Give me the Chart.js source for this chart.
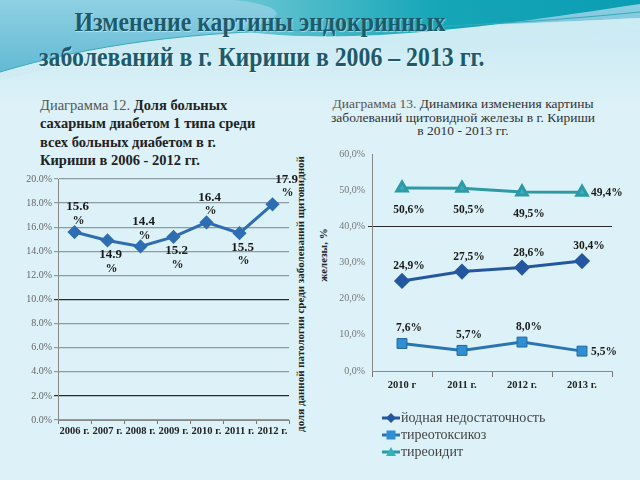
<!DOCTYPE html>
<html>
<head>
<meta charset="utf-8">
<script src="https://cdn.jsdelivr.net/npm/chart.js@4/dist/chart.umd.min.js"></script>
<style>
body { margin:0; width:640px; height:480px; overflow:hidden; position:relative;
  background:#ddf1f8; font-family:"Liberation Serif", serif; }
#bg { position:absolute; left:0; top:0; }
#title { position:absolute; left:0; top:4px; width:520px; text-align:center; color:#1d5a6b; white-space:nowrap;
  font-weight:bold; font-size:28px; line-height:35px; transform:scaleX(0.85);
  text-shadow:1px 1px 1px rgba(255,255,255,0.5); }
#sub1 { position:absolute; left:40px; top:96px; font-size:14.5px; line-height:18.3px; color:#222; font-weight:bold; white-space:nowrap; }
#sub1 span { font-weight:normal; color:#555; }
#sub2 { position:absolute; left:318px; top:97px; width:290px; text-align:center; font-size:13.5px; line-height:13.5px; color:#333; white-space:nowrap; }
#sub2 span { color:#555; }
.ytitle { position:absolute; white-space:nowrap; font-weight:bold; font-size:11px; color:#222;
  transform:translate(-50%,-50%) rotate(-90deg); }
#c1 { position:absolute; left:0; top:160px; }
#c2 { position:absolute; left:330px; top:140px; }
</style>
</head>
<body>
<svg id="bg" width="640" height="110">
  <defs>
    <linearGradient id="gb" x1="0" y1="0" x2="0" y2="1">
      <stop offset="0" stop-color="#8fd0e3"/><stop offset="1" stop-color="#62bad4"/>
    </linearGradient>
    <linearGradient id="gt" x1="0" y1="0" x2="1" y2="0">
      <stop offset="0" stop-color="#6cc6d4"/><stop offset="0.5" stop-color="#15a6b7"/><stop offset="1" stop-color="#0b9db3"/>
    </linearGradient>
    <linearGradient id="gl" x1="0" y1="0" x2="0" y2="1">
      <stop offset="0" stop-color="#c4e8f2"/><stop offset="1" stop-color="#ddf1f8"/>
    </linearGradient>
  </defs>
  <rect width="640" height="110" fill="url(#gl)"/>
  <path d="M0,0 H640 V18 C520,24 420,28 320,30 C190,31 90,45 0,72 Z" fill="url(#gb)"/>
  <path d="M0,72 C90,45 190,31 320,30 C420,28 520,24 640,18 V30 C520,36 420,40 330,44 C200,48 90,58 0,80 Z" fill="#cdebf3" opacity="0.8"/>
  <path d="M235,0 H640 V4 C560,16 470,30 380,35 C320,38 270,36 235,30 C280,22 300,8 235,0 Z" fill="url(#gt)"/>
  <path d="M0,72 C90,45 190,31 320,30 C420,28 520,24 640,12" fill="none" stroke="#3aa9b8" stroke-width="1"/>
</svg>
<div id="title">Изменение картины эндокринных<br>заболеваний в г. Кириши в 2006 – 2013 гг.</div>
<div id="sub1"><span>Диаграмма 12.</span> Доля больных<br>сахарным диабетом 1 типа среди<br>всех больных диабетом в г.<br>Кириши в 2006 - 2012 гг.</div>
<div id="sub2"><span>Диаграмма 13.</span> Динамика изменения картины<br>заболеваний щитовидной железы в г. Кириши<br>в 2010 - 2013 гг.</div>
<div class="ytitle" style="left:300px; top:294px;">доля данной патологии среди заболеваний щитовидной</div>
<div class="ytitle" style="left:323px; top:255px;">железы, %</div>
<canvas id="c1" width="310" height="290"></canvas>
<canvas id="c2" width="310" height="340"></canvas>
<script>
// Диаграмма 12
const years1 = ['2006 г.', '2007 г.', '2008 г.', '2009 г.', '2010 г.', '2011 г.', '2012 г.'];
const diabet1 = [15.6, 14.9, 14.4, 15.2, 16.4, 15.5, 17.9];
const side1 = ['up', 'down', 'up', 'down', 'up', 'down', 'up'];

// Диаграмма 13
const years2 = ['2010 г', '2011 г.', '2012 г.', '2013 г.'];
const series2 = ['йодная недостаточность', 'тиреотоксикоз', 'тиреоидит'];
const jod = [24.9, 27.5, 28.6, 30.4];
const tireotox = [7.6, 5.7, 8.0, 5.5];
const tireoid = [50.6, 50.5, 49.5, 49.4];
const side2 = [
  ['up', 'up', 'up', 'up'],
  ['up', 'up', 'up', 'right'],
  ['down', 'down', 'down', 'right']
];

const serif = '"Liberation Serif", serif';

// подписи значений
const valueLabels = {
  id: 'valueLabels',
  afterDatasetsDraw(chart, args, opts) {
    const ctx = chart.ctx;
    ctx.save();
    ctx.fillStyle = '#1a1a1a';
    ctx.textAlign = 'center';
    ctx.textBaseline = 'middle';
    chart.data.datasets.forEach((ds, i) => {
      chart.getDatasetMeta(i).data.forEach((pt, j) => {
        const s = ds.sides[j];
        if (opts.split) {
          const t = ds.data[j].toFixed(1);
          const dx = j == ds.data.length - 1 ? 14 : 3;
          const y1 = s == 'up' ? pt.y - 25 : pt.y + 14;
          ctx.font = 'bold 13px ' + serif;
          ctx.fillText(t, pt.x + dx, y1);
          ctx.font = 'bold 12px ' + serif;
          ctx.fillText('%', pt.x + dx + 1, y1 + 14);
        } else {
          const t = ds.data[j].toFixed(1).replace('.', ',') + '%';
          ctx.font = 'bold 11.5px ' + serif;
          if (s == 'right') {
            ctx.textAlign = 'left';
            ctx.fillText(t, pt.x + 9, pt.y + 1);
            ctx.textAlign = 'center';
          } else if (s == 'up') {
            ctx.fillText(t, pt.x + 7, pt.y - 15);
          } else {
            ctx.fillText(t, pt.x + 7, pt.y + 22);
          }
        }
      });
    });
    ctx.restore();
  }
};

function marker(ctx, style, x, y, color) {
  ctx.fillStyle = color;
  ctx.beginPath();
  if (style == 'rectRot') {
    ctx.moveTo(x, y - 5); ctx.lineTo(x + 5, y); ctx.lineTo(x, y + 5); ctx.lineTo(x - 5, y);
  } else if (style == 'rect') {
    ctx.rect(x - 4.5, y - 4.5, 9, 9);
  } else {
    ctx.moveTo(x, y - 5); ctx.lineTo(x + 5, y + 4); ctx.lineTo(x - 5, y + 4);
  }
  ctx.closePath();
  ctx.fill();
}

// легенда столбиком
const columnLegend = {
  id: 'columnLegend',
  afterDraw(chart) {
    const ctx = chart.ctx;
    const a = chart.chartArea;
    ctx.save();
    chart.data.datasets.forEach((ds, i) => {
      const y = a.bottom + 47 + i * 17;
      ctx.strokeStyle = ds.borderColor;
      ctx.lineWidth = 3;
      ctx.beginPath();
      ctx.moveTo(a.left + 10, y);
      ctx.lineTo(a.left + 28, y);
      ctx.stroke();
      marker(ctx, ds.pointStyle, a.left + 19, y, ds.pointBackgroundColor);
      ctx.fillStyle = '#444';
      ctx.font = '14px ' + serif;
      ctx.textBaseline = 'middle';
      ctx.fillText(ds.label, a.left + 29, y);
    });
    ctx.restore();
  }
};

new Chart(document.getElementById('c1'), {
  type: 'line',
  data: {
    labels: years1,
    datasets: [{
      data: diabet1,
      sides: side1,
      borderColor: '#2f6db3',
      backgroundColor: '#2f6db3',
      borderWidth: 3,
      pointStyle: 'rectRot',
      pointRadius: 5,
      pointBackgroundColor: '#2f6db3',
      pointBorderColor: '#2f6db3',
      tension: 0
    }]
  },
  options: {
    responsive: false,
    animation: false,
    layout: { padding: { top: 19, right: 21, left: 0, bottom: 0 } },
    plugins: { legend: { display: false }, tooltip: { enabled: false }, valueLabels: { split: true } },
    scales: {
      x: {
        offset: true,
        grid: { offset: true, drawOnChartArea: false, tickLength: 4, color: '#777' },
        border: { color: '#888' },
        ticks: { color: '#222', padding: 1, font: { family: serif, size: 10.5, weight: 'bold' }, maxRotation: 0, autoSkip: false },
        afterFit(s) { s.height = 30; }
      },
      y: {
        min: 0, max: 20,
        grid: {
          tickLength: 4,
          color: c => (c.tick && (c.tick.value == 10 || c.tick.value == 2)) ? '#2a2a2a' : '#8c9ca2',
          lineWidth: 1.2
        },
        border: { color: '#888' },
        ticks: { stepSize: 2, color: '#666', padding: 2, font: { family: serif, size: 10 },
          callback: v => v.toFixed(1) + '%' },
        afterFit(s) { s.width = 58; }
      }
    }
  },
  plugins: [valueLabels]
});

new Chart(document.getElementById('c2'), {
  type: 'line',
  data: {
    labels: years2,
    datasets: [
      { label: series2[0], data: jod, sides: side2[0], borderColor: '#24579f', pointStyle: 'rectRot',
        pointRadius: 6, pointBackgroundColor: '#24579f', pointBorderColor: '#24579f' },
      { label: series2[1], data: tireotox, sides: side2[1], borderColor: '#2b74b4', pointStyle: 'rect',
        pointRadius: 7, pointBackgroundColor: '#2f8fd2', pointBorderColor: '#24659f', pointBorderWidth: 1 },
      { label: series2[2], data: tireoid, sides: side2[2], borderColor: '#2d9aa6', pointStyle: 'triangle',
        pointRadius: 6, pointBackgroundColor: '#35b3bd', pointBorderColor: '#2d9aa6' }
    ].map(d => Object.assign({ borderWidth: 3, tension: 0 }, d))
  },
  options: {
    responsive: false,
    animation: false,
    layout: { padding: { top: 14, right: 28, left: 0, bottom: 79 } },
    plugins: { legend: { display: false }, tooltip: { enabled: false }, valueLabels: { split: false } },
    scales: {
      x: {
        offset: true,
        grid: { offset: true, drawOnChartArea: false, tickLength: 6, color: '#777' },
        border: { color: '#888' },
        ticks: { color: '#222', padding: 2, font: { family: serif, size: 10.5, weight: 'bold' }, maxRotation: 0, autoSkip: false },
        afterFit(s) { s.height = 30; }
      },
      y: {
        min: 0, max: 60,
        grid: { tickLength: 4, color: c => (c.tick && c.tick.value == 40) ? '#2a2a2a' : 'rgba(0,0,0,0)' },
        border: { color: '#888' },
        ticks: { stepSize: 10, color: '#777', padding: 3, font: { family: serif, size: 10 },
          callback: v => v.toFixed(1).replace('.', ',') + '%' },
        afterFit(s) { s.width = 42; }
      }
    }
  },
  plugins: [valueLabels, columnLegend]
});
</script>
</body>
</html>
